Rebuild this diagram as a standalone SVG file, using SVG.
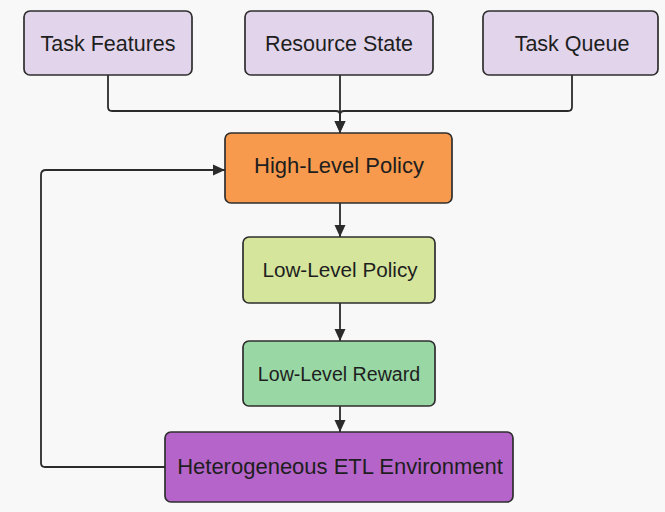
<svg xmlns="http://www.w3.org/2000/svg" width="665" height="512" viewBox="0 0 665 512">
  <defs>
    <marker id="arrow" viewBox="0 0 12 12" refX="12" refY="6" markerWidth="12" markerHeight="12" markerUnits="userSpaceOnUse" orient="auto">
      <path d="M0,0.5 L12,6 L0,11.5 Z" fill="#2b2b2b"/>
    </marker>
    <style>
      .box { stroke: #2e2e2e; stroke-width: 1.7; }
      .input { fill: #e2d5eb; }
      .high { fill: #f89a4d; }
      .lowp { fill: #d5e59c; }
      .loww { fill: #99d8a4; }
      .env { fill: #b565c9; }
      .label { font-family: "Liberation Sans", Arial, sans-serif; fill: #1e1e1e; text-anchor: middle; }
      .edge { fill: none; stroke: #2b2b2b; stroke-width: 1.8; }
    </style>
  </defs>

  <rect width="665" height="512" fill="#f8f8f8"/>

  <g id="connectors">
    <path class="edge" d="M108,75 V107 Q108,111 112,111 H336 Q340,111 340,115 V133" marker-end="url(#arrow)"/>
    <path class="edge" d="M572,75 V107 Q572,111 568,111 H344 Q340,111 340,115"/>
    <path class="edge" d="M340,75 V133" marker-end="url(#arrow)"/>
    <path class="edge" d="M340,203 V237" marker-end="url(#arrow)"/>
    <path class="edge" d="M340,303 V341" marker-end="url(#arrow)"/>
    <path class="edge" d="M340,406 V432" marker-end="url(#arrow)"/>
    <path class="edge" d="M165,467 H45 Q41,467 41,463 V175 Q41,170 46,170 H225" marker-end="url(#arrow)"/>
  </g>

  <g id="task-features">
    <rect class="box input" x="24" y="11" width="168" height="64" rx="6"/>
    <text class="label" x="108" y="51" font-size="21.5">Task Features</text>
  </g>

  <g id="resource-state">
    <rect class="box input" x="245" y="11" width="188" height="64" rx="6"/>
    <text class="label" x="339" y="51" font-size="21.5">Resource State</text>
  </g>

  <g id="task-queue">
    <rect class="box input" x="483" y="11" width="175" height="64" rx="6"/>
    <text class="label" x="572" y="51" font-size="21.5">Task Queue</text>
  </g>

  <g id="high-level-policy">
    <rect class="box high" x="225" y="133" width="227" height="70" rx="6"/>
    <text class="label" x="339" y="173" font-size="22">High-Level Policy</text>
  </g>

  <g id="low-level-policy">
    <rect class="box lowp" x="243" y="237" width="192" height="66" rx="6"/>
    <text class="label" x="340" y="277" font-size="20.7">Low-Level Policy</text>
  </g>

  <g id="low-level-reward">
    <rect class="box loww" x="243" y="341" width="192" height="65" rx="6"/>
    <text class="label" x="339" y="381" font-size="19.6">Low-Level Reward</text>
  </g>

  <g id="etl-environment">
    <rect class="box env" x="165" y="432" width="348" height="70" rx="6"/>
    <text class="label" x="340" y="474" font-size="22">Heterogeneous ETL Environment</text>
  </g>
</svg>
